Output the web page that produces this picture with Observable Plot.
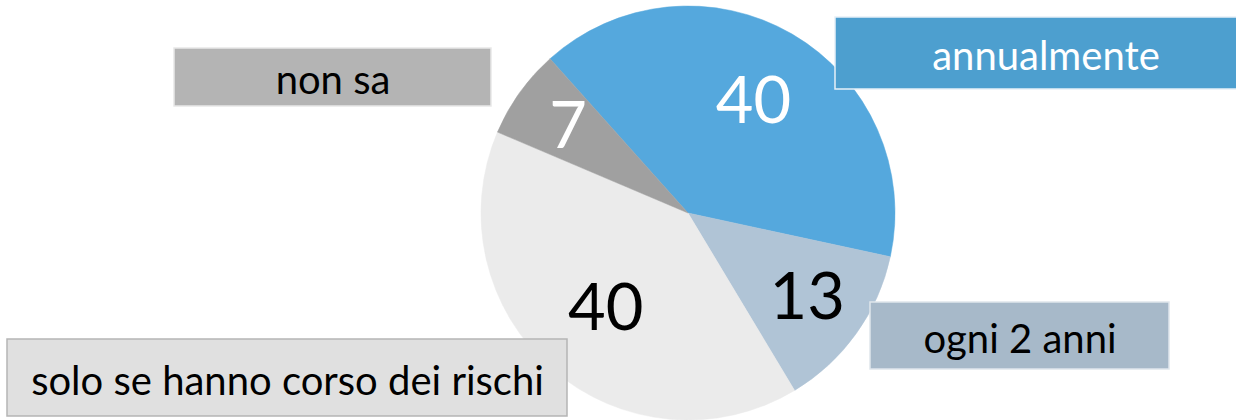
<!DOCTYPE html>
<html>
<head>
<meta charset="utf-8">
<script src="https://cdn.jsdelivr.net/npm/d3@7"></script>
<script src="https://cdn.jsdelivr.net/npm/@observablehq/plot@0.6"></script>
<style>
  html, body { margin: 0; padding: 0; background: #fff; }
  #chart { width: 1236px; height: 420px; overflow: hidden; }
</style>
</head>
<body>
<div id="chart"></div>
<script>
// Data
const categories = ["annualmente", "ogni 2 anni", "solo se hanno corso dei rischi", "non sa"];
const values = [40, 13, 40, 7];
const sliceColors = ["#55a8dd", "#b0c4d6", "#ebebeb", "#a0a0a0"];
const valueColors = ["#ffffff", "#000000", "#000000", "#ffffff"];

// Layout (pixel-like units of the plot's linear scales)
const W = 1236, H = 420;
const cx = 688, cy = 213, R = 207;
const startAngle = -41.8 * Math.PI / 180;
const labelRadius = [0.624, 0.705, 0.61, 0.715];

const boxes = [
  {x1: 835, x2: 1240, y1: 17, y2: 89, fill: "#4d9fcf", stroke: "#e6f0f8", color: "#ffffff"},
  {x1: 870, x2: 1169, y1: 302, y2: 369, fill: "#a7b9c9", stroke: "#dfe6ec", color: "#000000"},
  {x1: 7, x2: 567, y1: 339, y2: 416, fill: "#e0e0e0", stroke: "#b5b5b5", color: "#000000"},
  {x1: 174, x2: 491, y1: 48, y2: 106, fill: "#b4b4b4", stroke: "#e8e8e8", color: "#000000"}
].map((b, i) => ({...b, label: categories[i]}));

const pie = d3.pie().sort(null).value(d => d.value)
  .startAngle(startAngle).endAngle(startAngle + 2 * Math.PI);
const arcs = pie(categories.map((c, i) => ({category: c, value: values[i], i})));

const valueLabels = arcs.map(a => {
  const mid = (a.startAngle + a.endAngle) / 2;
  const r = R * labelRadius[a.data.i];
  return {
    x: cx + r * Math.sin(mid),
    y: cy - r * Math.cos(mid),
    text: String(a.data.value),
    color: valueColors[a.data.i]
  };
});

const pieMark = (index, scales) => {
  const g = d3.create("svg:g");
  const px = scales.x(cx), py = scales.y(cy);
  const pr = scales.x(cx + R) - scales.x(cx);
  const arc = d3.arc().innerRadius(0).outerRadius(pr);
  g.attr("transform", `translate(${px},${py})`)
    .selectAll("path")
    .data(arcs)
    .join("path")
    .attr("d", arc)
    .attr("fill", d => sliceColors[d.data.i])
    .attr("stroke", d => sliceColors[d.data.i])
    .attr("stroke-width", 0.5);
  return g.node();
};

const chart = Plot.plot({
  width: W,
  height: H,
  margin: 0,
  style: {background: "#ffffff", fontFamily: "Lato, 'Open Sans', sans-serif"},
  x: {domain: [0, W], range: [0, W], axis: null},
  y: {domain: [0, H], range: [0, H], axis: null},
  marks: [
    pieMark,
    Plot.text(valueLabels, {
      x: "x", y: "y", text: "text", fill: d => d.color,
      fontSize: 65, fontFamily: "Lato, 'Open Sans', sans-serif", textAnchor: "middle", lineAnchor: "middle"
    }),
    Plot.rect(boxes, {x1: "x1", x2: "x2", y1: "y1", y2: "y2", fill: d => d.fill, stroke: d => d.stroke, strokeWidth: 1.5}),
    Plot.text(boxes, {
      x: d => (d.x1 + Math.min(d.x2, W)) / 2 + (d.x2 > W ? 10 : 0),
      y: d => (d.y1 + d.y2) / 2 + 4,
      text: "label", fill: d => d.color,
      fontSize: 40, fontFamily: "Lato, 'Open Sans', sans-serif", textAnchor: "middle", lineAnchor: "middle"
    })
  ]
});
document.getElementById("chart").appendChild(chart);
</script>
</body>
</html>
